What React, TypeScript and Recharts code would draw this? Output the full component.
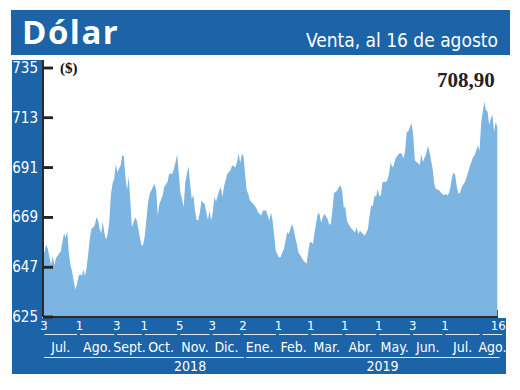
import React from "react"
import { AreaChart, Area, XAxis, YAxis } from "recharts"

// trading-day index since 3 Jul 2018, and the selling rate
const dayIdx = [
  0, 1, 2, 3, 5, 6, 7, 8, 10, 11, 13, 14, 15, 16, 17, 18, 19, 20, 21, 22, 23, 24, 25, 26, 27, 28, 29, 30,
  31, 32, 33, 34, 35, 36, 37, 38, 39, 40, 41, 42, 43, 44, 45, 46, 47, 48, 49, 50, 51, 52, 53, 54, 55, 57,
  58, 60, 61, 62, 63, 65, 66, 68, 69, 70, 71, 72, 74, 75, 77, 78, 80, 81, 82, 83, 84, 85, 86, 87, 88, 89,
  90, 91, 92, 93, 94, 95, 96, 97, 98, 99, 100, 101, 102, 103, 104, 105, 106, 107, 109, 110, 111, 112, 113,
  114, 116, 117, 119, 120, 121, 122, 123, 124, 125, 126, 127, 128, 130, 131, 132, 133, 135, 136, 138, 140,
  141, 142, 144, 146, 147, 148, 149, 150, 151, 152, 153, 154, 155, 156, 157, 158, 160, 161, 163, 164, 165,
  166, 167, 168, 169, 170, 171, 172, 173, 174, 176, 177, 178, 179, 180, 182, 183, 184, 185, 186, 187, 188,
  189, 191, 193, 194, 195, 196, 199, 201, 202, 203, 204, 205, 206, 207, 208, 209, 210, 212, 213, 214, 215,
  216, 217, 218, 219, 220, 221, 222, 223, 224, 225, 226, 227, 228, 229, 230, 231, 232, 233, 234, 235, 236,
  237, 238, 239, 240, 241, 242, 243, 244, 245, 246, 247, 248, 249, 250, 251, 252, 253, 254, 255, 256, 257,
  258, 259, 261, 262, 263, 264, 265, 266, 267, 268, 269, 270, 271, 272, 273, 274, 275, 276, 277, 278, 279,
  280, 281,
]
const price = [
  652, 654, 657, 655, 648, 652, 648, 651, 653, 654, 662, 660, 663, 653, 648, 645, 641, 637, 639.5, 643, 644,
  643, 646, 643, 647, 653, 660, 664, 664.5, 665.5, 669, 668, 664, 662, 667, 662, 659, 661.7, 667, 679, 684,
  686, 692.5, 689, 690.5, 692, 696.5, 696, 687, 681, 687, 676.5, 664.6, 669, 667.6, 660, 656.5, 657, 661,
  675.7, 679.4, 682.4, 684, 681, 670, 675, 678.7, 682.4, 684.6, 688.3, 688.3, 690.5, 693.5, 697, 688.3, 680,
  677, 673.5, 684.6, 688.3, 691.6, 684, 677, 679, 672, 668, 667.6, 671, 676.5, 675.5, 675, 671.3, 668, 672,
  667.6, 671, 678, 676, 680.9, 682.4, 678, 683, 685.4, 688.3, 689.8, 692, 691, 693.5, 697.2, 693, 697.2, 696,
  688.3, 681, 679.4, 676.5, 675, 674.2, 673, 671.3, 669.8, 672, 672, 667.6, 671.3, 667.6, 654.2, 651.3,
  651.5, 653.5, 655, 658.7, 662.4, 661.7, 663.9, 666.1, 663.9, 660.2, 657.2, 653.5, 651.3, 650, 648.5, 653.5,
  658, 658, 657.2, 662.4, 666.8, 670.8, 670.6, 666.8, 669, 670.6, 668.3, 666, 666, 672, 679.7, 680.9, 682.4,
  683.1, 680.9, 673.5, 673.5, 667.6, 666, 663.9, 662.4, 664.6, 661.7, 663.1, 660.9, 663.9, 669.8, 674.2, 674,
  678.7, 678, 681.6, 678.7, 678.7, 684.6, 684.6, 685.4, 688.3, 693.5, 691, 692, 695, 696, 697, 697.5, 697,
  695, 698.7, 706.8, 707, 709, 710.5, 705.4, 694.2, 693.5, 693, 692, 697, 693.5, 695.4, 697, 700.5, 698.3,
  694.2, 690.5, 683.9, 681.6, 681.3, 681, 680, 679.4, 678.7, 679.4, 678.7, 679.4, 682.4, 686.8, 689, 687.6,
  682.4, 679.4, 680, 682.4, 684.6, 686.8, 689, 691.6, 693.5, 695.7, 696.5, 698.7, 700.9, 698.3, 710.5, 715.7,
  720.1, 716.4, 715.7, 709.8, 712.7, 714.2, 706.8, 711.2, 708.9,
]

const yTicks = [625, 647, 669, 691, 713, 735]
const dayTicks = [0, 22, 45, 62, 84, 104, 123, 145, 165, 186, 207, 228, 248, 281]
const dayLabels = ["3", "1", "3", "1", "5", "3", "2", "1", "1", "1", "1", "3", "1", "16"]
const monthStarts = [0, 22, 45, 62, 84, 104, 123, 145, 165, 186, 207, 228, 248, 271]
const monthEnd = 285
const monthLabels = ["Jul.", "Ago.", "Sept.", "Oct.", "Nov.", "Dic.", "Ene.", "Feb.", "Mar.", "Abr.", "May.", "Jun.", "Jul.", "Ago."]
const yearStarts = [0, 125]
const yearEnd = 283
const yearLabelAt = [91, 210]
const yearLabels = ["2018", "2019"]

const data = dayIdx.map((d, k) => ({ d, v: price[k] }))

const BLUE = "#1c63a8"
const AREA = "#7cb4e2"
const NARROW = "'Liberation Sans Narrow', 'DejaVu Sans Condensed', 'Roboto Condensed', Roboto, sans-serif"

const W = 520
const H = 390
const LEFT = 43
const RIGHT = 497.3
const TOP = 68
const PPI = (RIGHT - LEFT) / 281

const YTick = (props: any) => {
  const { y, payload } = props
  return (
    <g>
      <rect x={LEFT} y={y - 1.25} width={10} height={2.5} fill="#222" />
      <text x={38} y={y + 5} textAnchor="end" fill="#fff" fontSize={15} fontFamily={NARROW}>
        {payload.value}
      </text>
    </g>
  )
}

const DayTick = (props: any) => {
  const { x, payload } = props
  const k = dayTicks.indexOf(payload.value)
  return (
    <text x={x + 1} y={330} textAnchor="middle" fill="#fff" fontSize={13} fontFamily={NARROW}>
      {dayLabels[k]}
    </text>
  )
}

const MonthTick = (props: any) => {
  const { x, payload } = props
  const k = monthStarts.indexOf(payload.value)
  const next = k < monthStarts.length - 1 ? monthStarts[k + 1] : monthEnd
  const w = (next - payload.value) * PPI
  return (
    <g>
      <line x1={x + 1.5} x2={x + w - 1.5} y1={334.5} y2={334.5} stroke="#dfe9f5" strokeWidth={1} />
      <text x={x + w / 2} y={352} textAnchor="middle" fill="#fff" fontSize={14} fontFamily={NARROW}>
        {monthLabels[k]}
      </text>
    </g>
  )
}

const YearTick = (props: any) => {
  const { x, payload } = props
  const k = yearStarts.indexOf(payload.value)
  const next = k < yearStarts.length - 1 ? yearStarts[k + 1] : yearEnd
  const w = (next - payload.value) * PPI
  const lx = x + (yearLabelAt[k] - payload.value) * PPI
  return (
    <g>
      <line x1={x + 1} x2={x + w - 1} y1={357.5} y2={357.5} stroke="#dfe9f5" strokeWidth={1} />
      <text x={lx} y={371} textAnchor="middle" fill="#fff" fontSize={14} fontFamily={NARROW}>
        {yearLabels[k]}
      </text>
    </g>
  )
}

export default function App() {
  return (
    <div style={{ position: "absolute", left: 0, top: 0, width: W, height: H, background: "#fff", overflow: "hidden" }}>
      {/* header band */}
      <div style={{ position: "absolute", left: 11, top: 10, width: 499, height: 45, background: BLUE }} />
      <div
        style={{
          position: "absolute",
          left: 22,
          top: 8,
          color: "#fff",
          fontFamily: "'Open Sans', sans-serif",
          fontWeight: 700,
          fontSize: 33,
          letterSpacing: 1.5,
          lineHeight: "48px",
        }}
      >
        Dólar
      </div>
      <div
        style={{
          position: "absolute",
          right: 22,
          top: 28,
          color: "#fff",
          fontFamily: NARROW,
          fontSize: 19,
          lineHeight: "24px",
        }}
      >
        Venta, al 16 de agosto
      </div>
      {/* axis bands */}
      <div style={{ position: "absolute", left: 12, top: 60, width: 30, height: 314, background: BLUE }} />
      <div style={{ position: "absolute", left: 12, top: 318, width: 494, height: 56, background: BLUE }} />
      <div style={{ position: "absolute", left: 42, top: 60, width: 2, height: 9, background: "#2b2b2b" }} />
      <div style={{ position: "absolute", left: 496, top: 310, width: 2, height: 8, background: "#2b2b2b" }} />
      <div
        style={{
          position: "absolute",
          left: 60,
          top: 60,
          fontFamily: "'Liberation Serif', serif",
          fontWeight: 700,
          fontSize: 15,
          color: "#111",
        }}
      >
        ($)
      </div>
      <div
        style={{
          position: "absolute",
          left: 437,
          top: 68,
          fontFamily: "'Liberation Serif', serif",
          fontWeight: 700,
          fontSize: 21,
          color: "#222",
        }}
      >
        708,90
      </div>
      <div style={{ position: "absolute", left: 0, top: 0 }}>
        <AreaChart
          width={W}
          height={H}
          data={data}
          margin={{ top: TOP, right: W - RIGHT, bottom: 16, left: 12 }}
        >
          <XAxis
            xAxisId="d"
            dataKey="d"
            type="number"
            domain={[0, 281]}
            ticks={dayTicks}
            height={17}
            axisLine={{ stroke: "#2b2b2b", strokeWidth: 2 }}
            tickLine={false}
            tick={<DayTick />}
            interval={0}
          />
          <XAxis
            xAxisId="m"
            dataKey="d"
            type="number"
            domain={[0, 281]}
            ticks={monthStarts}
            height={23}
            axisLine={false}
            tickLine={false}
            tick={<MonthTick />}
            interval={0}
            allowDataOverflow
          />
          <XAxis
            xAxisId="y"
            dataKey="d"
            type="number"
            domain={[0, 281]}
            ticks={yearStarts}
            height={17}
            axisLine={false}
            tickLine={false}
            tick={<YearTick />}
            interval={0}
          />
          <YAxis
            domain={[625, 735]}
            ticks={yTicks}
            width={31}
            axisLine={{ stroke: "#2b2b2b", strokeWidth: 2 }}
            tickSize={-10}
            tickLine={{ stroke: "#222", strokeWidth: 2.5 }}
            tick={<YTick />}
            interval={0}
          />
          <Area
            xAxisId="d"
            dataKey="v"
            type="linear"
            stroke="none"
            fill={AREA}
            fillOpacity={1}
            isAnimationActive={false}
          />
        </AreaChart>
      </div>
    </div>
  )
}
